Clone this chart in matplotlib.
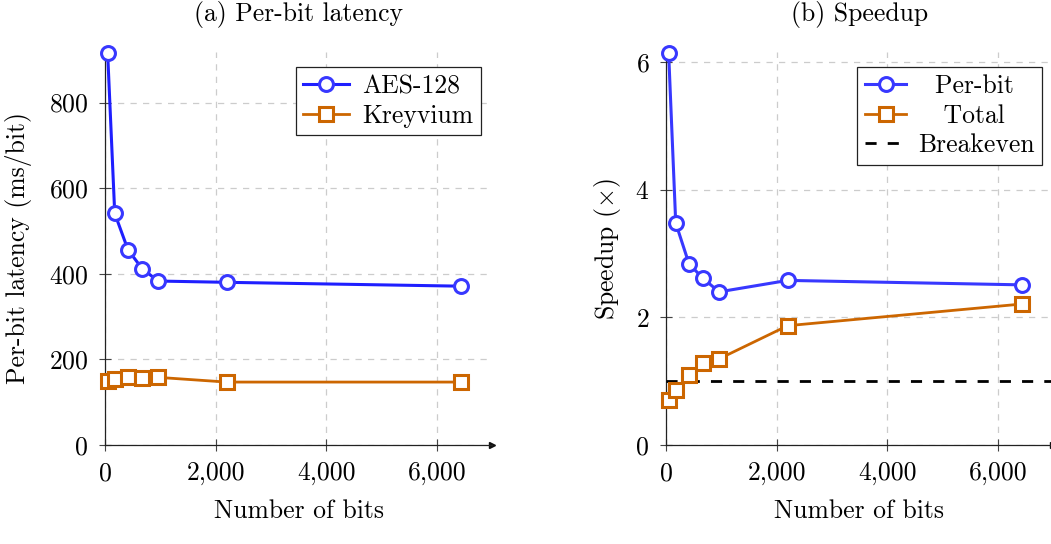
import numpy as np
import matplotlib
matplotlib.use('Agg')
from matplotlib import pyplot as plt
from matplotlib.ticker import FuncFormatter

# data
bits = [48, 176, 416, 672, 960, 2200, 6440]
aes_latency = [915, 541, 456, 412, 383, 380, 371]
kreyvium_latency = [149, 154, 159, 157, 158, 147, 147]
speedup_perbit = [6.14, 3.48, 2.84, 2.61, 2.40, 2.58, 2.51]
speedup_total = [0.70, 0.86, 1.09, 1.28, 1.35, 1.87, 2.21]
breakeven = 1.0

plt.rcParams['font.family'] = ['cmr10', 'DejaVu Serif']
plt.rcParams['mathtext.fontset'] = 'cm'
plt.rcParams['axes.unicode_minus'] = False
plt.rcParams['axes.formatter.use_mathtext'] = True
fs = 18.5

blue_line = '#1f1fff'
blue_mark = '#3838ff'
orange = '#cc6600'
grid_c = '#cccccc'

fig = plt.figure(figsize=(10.51, 5.44), dpi=100)
ax1 = fig.add_axes([105/1051, 1 - 445/544, 387/1051, (445 - 52)/544])
ax2 = fig.add_axes([666/1051, 1 - 445/544, 387/1051, (445 - 52)/544])

comma = FuncFormatter(lambda v, p: '{:,.0f}'.format(v))

def style(ax, ymax, yticks):
    ax.set_xlim(0, 7000)
    ax.set_ylim(0, ymax)
    ax.set_xticks([0, 2000, 4000, 6000])
    ax.set_yticks(yticks)
    ax.xaxis.set_major_formatter(comma)
    for s in ['top', 'right']:
        ax.spines[s].set_visible(False)
    for s in ['left', 'bottom']:
        ax.spines[s].set_color('#222222')
        ax.spines[s].set_linewidth(0.9)
    ax.tick_params(direction='inout', length=8, width=0.8, color='#444444',
                   labelsize=fs)
    ax.tick_params(axis='y', pad=8)
    ax.tick_params(axis='x', pad=8)
    ax.grid(True, ls=(0, (5, 5)), color=grid_c, lw=0.9)
    ax.set_axisbelow(True)
    ax.plot(1, 0, '>', color='#111111', ms=5, transform=ax.get_yaxis_transform(), clip_on=False)
    ax.plot(0, 1, '^', color='#111111', ms=5, transform=ax.get_xaxis_transform(), clip_on=False)
    ax.set_xlabel('Number of bits', fontsize=fs, labelpad=10)

legend_kw = dict(loc='upper right', fontsize=fs, fancybox=False, edgecolor='#222222',
                 framealpha=1, borderpad=0.3, labelspacing=0.22, borderaxespad=0)

# (a) per-bit latency
ax1.plot(bits, aes_latency, '-o', color=blue_line, mec=blue_mark, mfc='white',
         lw=2.2, ms=10, mew=2.2, label='AES-128', clip_on=False, zorder=5)
ax1.plot(bits, kreyvium_latency, '-s', color=orange, mec=orange, mfc='white',
         lw=2, ms=10, mew=2.2, label='Kreyvium', clip_on=False, zorder=5)
style(ax1, 918, [0, 200, 400, 600, 800])
ax1.set_ylabel('Per-bit latency (ms/bit)', fontsize=fs, labelpad=12)
ax1.set_title('(a) Per-bit latency', fontsize=fs, pad=22)
leg1 = ax1.legend(bbox_to_anchor=(0.972, 0.962), handlelength=1.8, handletextpad=0.5,
                  **legend_kw)
leg1.get_frame().set_linewidth(0.9)

# (b) speedup
ax2.plot(bits, speedup_perbit, '-o', color=blue_mark, mec=blue_mark, mfc='white',
         lw=2.2, ms=10, mew=2.2, label='  Per-bit', clip_on=False, zorder=5)
ax2.plot(bits, speedup_total, '-s', color=orange, mec=orange, mfc='white',
         lw=2, ms=10, mew=2.2, label='   Total', clip_on=False, zorder=5)
ax2.axhline(breakeven, color='black', ls=(0, (4, 4)), lw=2, label='Breakeven', zorder=4)
style(ax2, 6.16, [0, 2, 4, 6])
ax2.set_ylabel(r'Speedup ($\times$)', fontsize=fs, labelpad=9)
ax2.set_title('(b) Speedup', fontsize=fs, pad=22)
leg2 = ax2.legend(bbox_to_anchor=(0.972, 0.962), handlelength=1.6, handletextpad=0.45,
                  **legend_kw)
leg2.get_frame().set_linewidth(0.9)

plt.savefig('out.png', dpi=100)
